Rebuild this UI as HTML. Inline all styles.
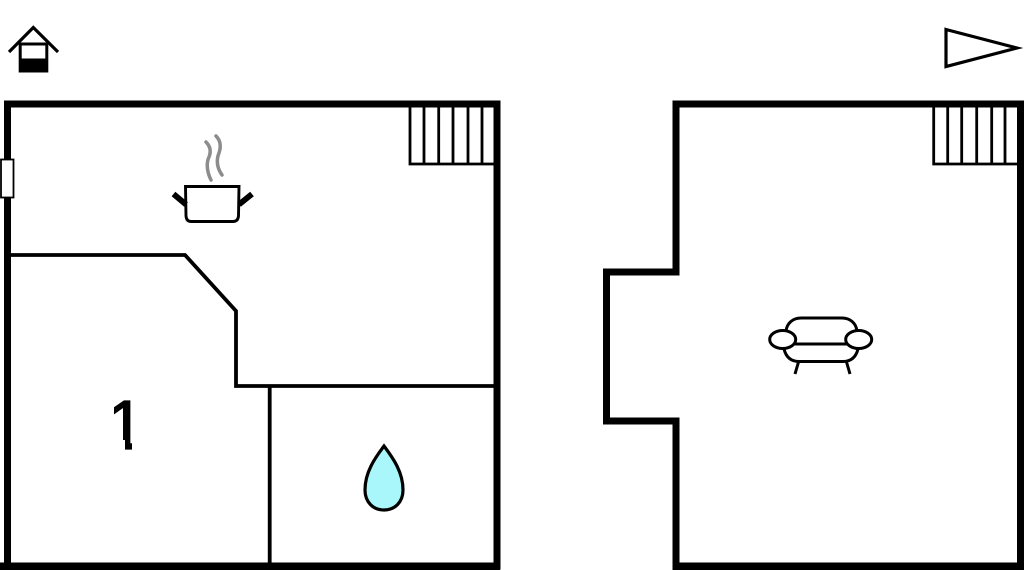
<!DOCTYPE html>
<html><head><meta charset="utf-8"><style>
html,body{margin:0;padding:0;background:#fff;width:1024px;height:570px;overflow:hidden}
svg{display:block}
</style></head><body>
<svg width="1024" height="570" viewBox="0 0 1024 570" xmlns="http://www.w3.org/2000/svg">
<rect width="1024" height="570" fill="#fff"/>
<g fill="none" stroke="#000" stroke-linejoin="miter">
<!-- left plan -->
<path d="M7.500 566V104H497V566Z" stroke-width="7"/>
<path d="M0 566.300H500" stroke-width="7.500"/>
<path d="M10 255H185L236 311V386H495" stroke-width="3.800"/>
<path d="M269.700 386V563" stroke-width="3.800"/>
<!-- left stairs -->
<path d="M410 105V164H495M424 105V164M438.700 105V164M453 105V164M468 105V164M482 105V164" stroke-width="2.800"/>
<!-- right plan -->
<path d="M676 570V421H606.500V272H676V104H1020.500V570" stroke-width="7"/>
<path d="M673 566.300H1024" stroke-width="7.500"/>
<!-- right stairs -->
<path d="M933.700 105V164H1018M947.700 105V164M961.700 105V164M976.700 105V164M991.700 105V164M1005 105V164" stroke-width="2.800"/>
<!-- north triangle -->
<path d="M946 29.500L1017 48L946 66.500Z" stroke-width="3.200"/>
<!-- house -->
<path d="M9 52L33.300 27.500L58 52" stroke-width="3.200"/>
<rect x="20.200" y="44" width="26.600" height="27" stroke-width="3"/>
<!-- pot -->
<path d="M185.500 186.500H239L238.500 216Q238 221.500 233 221.500H191Q186.500 221.500 186 216Z" stroke-width="2.900" fill="#fff"/>
<path d="M173.500 194L186 204.500M252 194L239 204.500" stroke-width="5.800"/>
<path d="M206 142C211 147 211 152 209 157C206 163 207 172 211 180M216 136C221 141 221 147 219 153C216 160 217 168 222 175" stroke="#8c8c8c" stroke-width="3.500" stroke-linecap="round"/>
<!-- sofa -->
<path d="M786 331C787 323 793 318 801 318H842C850 318 856 323 857 331" stroke-width="3"/>
<path d="M784 349C786 357 791 361.500 799 361.500H843C851 361.500 856 357 858 349" stroke-width="3"/>
<path d="M795 344H847" stroke-width="3"/>
<ellipse cx="782.700" cy="339.500" rx="13" ry="9" stroke-width="3"/>
<ellipse cx="858.700" cy="339.500" rx="13" ry="9" stroke-width="3"/>
<path d="M798.500 362L795 374M846.500 362L850 374" stroke-width="3"/>
<!-- drop -->
<path d="M384 446C375 458 365 472 365 490C365 502 373 510 384 510C395 510 403 502 403 490C403 472 393 458 384 446Z" fill="#aaf7fb" stroke-width="3.200"/>
</g>
<!-- house fill -->
<rect x="19" y="58.500" width="29" height="13.500" fill="#000"/>
<!-- window -->
<rect x="1" y="159.500" width="12.500" height="38" fill="#fff" stroke="#000" stroke-width="1.800"/>
<!-- room label -->
<text x="106" y="449" font-family="'Liberation Sans',sans-serif" font-size="70" fill="#000" stroke="#000" stroke-width="1.200">1</text>
<rect x="100" y="440" width="25" height="12" fill="#fff"/>
<rect x="132" y="440" width="20" height="12" fill="#fff"/>
<rect x="100" y="395" width="14" height="30" fill="#fff"/>
</svg>
</body></html>
